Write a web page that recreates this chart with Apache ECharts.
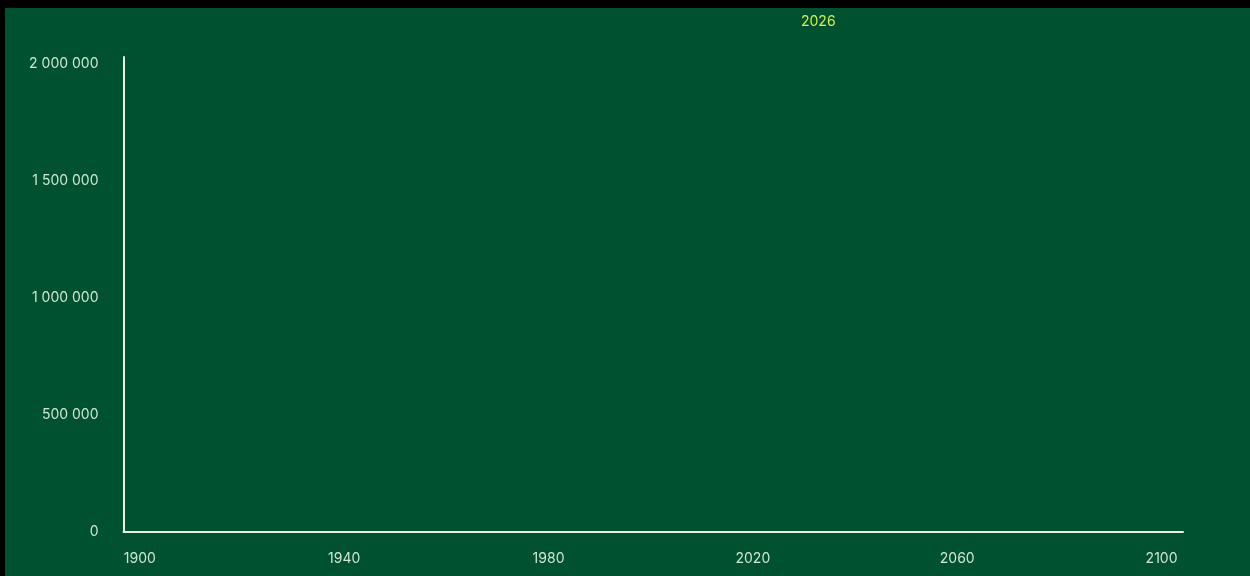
<!DOCTYPE html>
<html>
<head>
<meta charset="utf-8">
<script src="https://cdn.jsdelivr.net/npm/echarts@6/dist/echarts.min.js"></script>
<style>
html,body{margin:0;padding:0;background:#000;}
#chart{width:1250px;height:576px;}
</style>
</head>
<body>
<div id="chart"></div>
<script>
const yearLabel = '2026';
const xTicks = [1900, 1940, 1980, 2020, 2060, 2100];
const yTicks = [0, 500000, 1000000, 1500000, 2000000];
const years = [];
const values = [];

const chart = echarts.init(document.getElementById('chart'));
const fmt = v => String(v).replace(/\B(?=(\d{3})+(?!\d))/g, ' ');
chart.setOption({
  backgroundColor: '#005130',
  animation: false,
  title: {
    text: yearLabel,
    left: 796, top: 10,
    textStyle: {color: '#d6f04a', fontSize: 14, fontWeight: 'normal', fontFamily: 'Inter'}
  },
  graphic: [
    {type: 'rect', shape: {x: 0, y: 0, width: 1250, height: 8}, style: {fill: '#000'}, z: 100},
    {type: 'rect', shape: {x: 0, y: 0, width: 5, height: 576}, style: {fill: '#000'}, z: 100}
  ],
  grid: {left: 123.5, right: 67, top: 57, bottom: 44, containLabel: false},
  xAxis: {
    type: 'value',
    min: 1896.8, max: 2104.2,
    axisLine: {show: true, lineStyle: {color: '#e8f2dc', width: 2}},
    axisTick: {show: false},
    splitLine: {show: false},
    axisLabel: {
      customValues: xTicks,
      color: '#cfe6cf', fontSize: 14, fontFamily: 'Inter', margin: 20,
      showMinLabel: true, showMaxLabel: true,
      formatter: v => String(v)
    }
  },
  yAxis: {
    type: 'value',
    min: 0, max: 2030000,
    axisLine: {show: true, onZero: false, lineStyle: {color: '#e8f2dc', width: 2}},
    axisTick: {show: false},
    splitLine: {show: false},
    axisLabel: {
      customValues: yTicks,
      color: '#cfe6cf', fontSize: 14, fontFamily: 'Inter', margin: 25,
      formatter: v => fmt(v)
    }
  },
  series: [{type: 'line', data: years.map((y, i) => [y, values[i]]), showSymbol: false}]
});
</script>
</body>
</html>
